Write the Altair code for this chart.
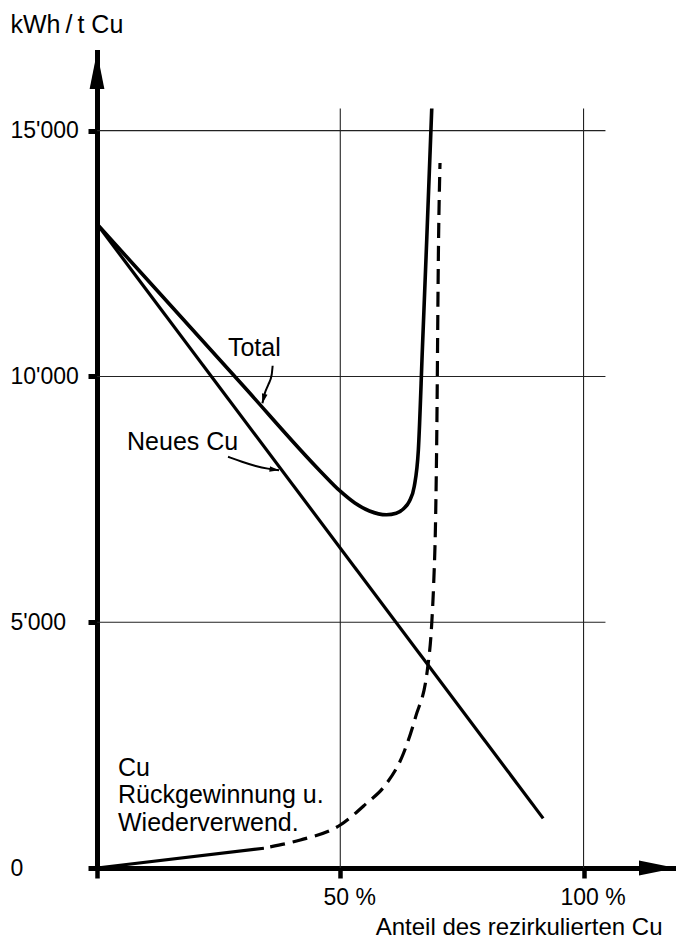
import altair as alt
import pandas as pd

# ---- data ----
total_x = [0, 30, 46, 50, 53, 56, 59.5, 61.5, 63, 64.2, 65.2, 66.05, 66.9, 67.77, 68.8]
total_y = [13100, 9815, 8063, 7665, 7425, 7262, 7185, 7215, 7310, 7460, 7760, 8508, 10620, 12780, 15450]

new_x = [0, 91.7]
new_y = [13100, 1010]

rec_solid_x = [0, 34.3]
rec_solid_y = [0, 402]
rec_dash_x = [35.6, 41.8, 50, 55.4, 59, 63, 65.5, 67.9, 68.8, 69.2, 69.6, 69.8, 70.2, 70.5]
rec_dash_y = [430, 570, 875, 1317, 1654, 2334, 3080, 4030, 4980, 5795, 7150, 8508, 12782, 14343]

hgrid_y = [5000, 10000, 15000]
hgrid_end = 104.5
vgrid_x = [50, 100]
vgrid_top = 15450

x_ticks = [0, 50, 100]
y_ticks = [0, 5000, 10000, 15000]

x_max = 119
y_max = 16600

# annotation arrows (data coordinates)
total_arrow_x = [36.1, 35.9, 35.2, 34.5, 34.0]
total_arrow_y = [10218, 10035, 9831, 9661, 9455]
neues_arrow_x = [26.93, 29.8, 32.68, 35.15, 37.41]
neues_arrow_y = [8365, 8264, 8173, 8121, 8091]

label_text = ["Total", "Neues Cu", "Cu", "Rückgewinnung u.", "Wiederverwend."]
label_x = [26.9, 6.17, 4.32, 4.32, 4.32]
label_y = [10411, 8508, 1873, 1323, 753]

FONT = "Liberation Sans"

xs = alt.Scale(domain=[0, x_max], nice=False, zero=False)
ys = alt.Scale(domain=[0, y_max], nice=False, zero=False)

xaxis = alt.Axis(
    values=x_ticks, grid=False,
    labelExpr="datum.value == 0 ? '' : datum.value + ' %'",
    domainWidth=5, domainColor="black", domainCap="square",
    tickColor="black", tickWidth=4.5, tickSize=10,
    labelFont=FONT, labelFontSize=23, labelColor="black",
    labelPadding=8, labelOffset=9, labelFlush=False,
    title="Anteil des rezirkulierten Cu", titleFont=FONT, titleFontSize=24,
    titleFontWeight="normal", titleColor="black",
    titleAlign="right", titleBaseline="alphabetic", titleX=565, titleY=66,
)
yaxis = alt.Axis(
    values=y_ticks, grid=False,
    labelExpr="datum.value == 0 ? '0' : (datum.value / 1000) + \"'000\"",
    domainWidth=5, domainColor="black", domainCap="square",
    tickColor="black", tickWidth=5, tickSize=9,
    labelFont=FONT, labelFontSize=23, labelColor="black",
    labelAlign="left", labelBaseline="middle", labelPadding=78, labelFlush=False,
    title="kWh\u2009/\u2009t Cu", titleFont=FONT, titleFontSize=25, titleFontWeight="normal",
    titleColor="black", titleAngle=0, titleAlign="left", titleBaseline="alphabetic",
    titleX=-87, titleY=-20,
)

X = alt.X("x:Q", scale=xs, axis=xaxis)
Y = alt.Y("y:Q", scale=ys, axis=yaxis)

hgrid = pd.DataFrame({"y": hgrid_y, "x": [0] * len(hgrid_y), "x2": [hgrid_end] * len(hgrid_y)})
vgrid = pd.DataFrame({"x": vgrid_x, "y": [0] * len(vgrid_x), "y2": [vgrid_top] * len(vgrid_x)})

h_rules = alt.Chart(hgrid).mark_rule(color="#222", strokeWidth=1.1).encode(x=X, x2="x2:Q", y=Y)
v_rules = alt.Chart(vgrid).mark_rule(color="#222", strokeWidth=1.1).encode(x=X, y=Y, y2="y2:Q")

df_total = pd.DataFrame({"x": total_x, "y": total_y})
df_new = pd.DataFrame({"x": new_x, "y": new_y})
df_rs = pd.DataFrame({"x": rec_solid_x, "y": rec_solid_y})
df_rd = pd.DataFrame({"x": rec_dash_x, "y": rec_dash_y})

line_total = alt.Chart(df_total).mark_line(color="black", strokeWidth=3.6, interpolate="monotone").encode(x=X, y=Y)
line_new = alt.Chart(df_new).mark_line(color="black", strokeWidth=3.2).encode(x=X, y=Y)
line_rs = alt.Chart(df_rs).mark_line(color="black", strokeWidth=3.2).encode(x=X, y=Y)
line_rd = alt.Chart(df_rd).mark_line(color="black", strokeWidth=3.2, strokeDash=[15, 8],
                                     interpolate="monotone").encode(x=X, y=Y)

df_ta = pd.DataFrame({"x": total_arrow_x, "y": total_arrow_y, "i": list(range(len(total_arrow_x)))})
df_na = pd.DataFrame({"x": neues_arrow_x, "y": neues_arrow_y, "i": list(range(len(neues_arrow_x)))})
arrow_t = alt.Chart(df_ta).mark_line(color="black", strokeWidth=2, interpolate="monotone").encode(x=X, y=Y, order="i:Q")
arrow_n = alt.Chart(df_na).mark_line(color="black", strokeWidth=2, interpolate="basis").encode(x=X, y=Y, order="i:Q")

HEAD = "M0,0L0.6,2L-0.6,2Z"
head_t = alt.Chart(pd.DataFrame({"x": total_arrow_x[-1:], "y": total_arrow_y[-1:]})).mark_point(
    shape=HEAD, filled=True, size=90, color="black", opacity=1, angle=194, strokeWidth=0).encode(x=X, y=Y)
head_n = alt.Chart(pd.DataFrame({"x": neues_arrow_x[-1:], "y": neues_arrow_y[-1:]})).mark_point(
    shape=HEAD, filled=True, size=90, color="black", opacity=1, angle=98, strokeWidth=0).encode(x=X, y=Y)

# axis arrowheads
ax_up = alt.Chart(pd.DataFrame({"x": [0], "y": [y_max]})).mark_point(
    shape="M0,0L0.4,2L-0.4,2Z", filled=True, size=1369, color="black", opacity=1, strokeWidth=0).encode(x=X, y=Y)
ax_right = alt.Chart(pd.DataFrame({"x": [x_max], "y": [0]})).mark_point(
    shape="M0,0L-2,0.4L-2,-0.4Z", filled=True, size=1369, color="black", opacity=1, strokeWidth=0).encode(x=X, y=Y)

df_lab = pd.DataFrame({"x": label_x, "y": label_y, "t": label_text})
labels = alt.Chart(df_lab).mark_text(font=FONT, fontSize=25, color="black", align="left",
                                     baseline="alphabetic").encode(x=X, y=Y, text="t:N")

chart = alt.layer(
    h_rules, v_rules, line_new, line_total, line_rs, line_rd, arrow_t, arrow_n, head_t, head_n,
    ax_up, ax_right, labels
).properties(
    width=579, height=816,
    padding={"left": 89, "top": 44, "right": 0, "bottom": 75},
    autosize=alt.AutoSizeParams(type="none"),
    background="white",
).configure_view(stroke=None)

chart.save("out.html", embed_options={"renderer": "svg", "actions": False})
